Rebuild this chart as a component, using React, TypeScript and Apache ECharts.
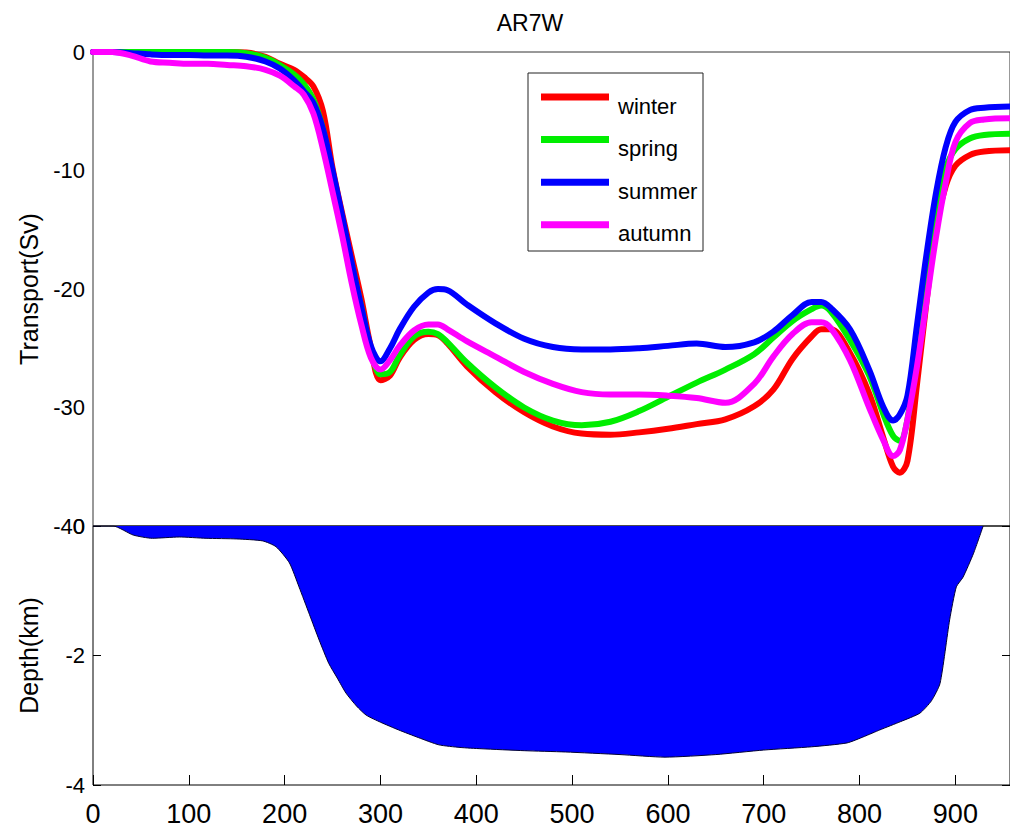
import React, { useEffect, useRef } from "react";
import * as echarts from "echarts";

const distance = [0, 20, 40, 60, 80, 100, 120, 140, 160, 180, 195, 210, 220, 230, 240, 250, 260, 270, 280, 290, 300, 310, 320, 335, 350, 360, 370, 390, 420, 450, 480, 510, 540, 570, 600, 630, 660, 690, 710, 730, 750, 760, 770, 790, 810, 825, 835, 842, 850, 860, 870, 880, 890, 900, 915, 930, 957];

const winter = [0, 0, 0, 0, 0, 0, 0, 0, -0.05, -0.4, -1.0, -1.5, -2.1, -2.9, -5.0, -9.8, -13.6, -17.2, -20.8, -24.9, -27.7, -27.3, -25.8, -24.3, -23.8, -23.9, -24.6, -26.5, -28.7, -30.4, -31.6, -32.2, -32.3, -32.1, -31.8, -31.4, -31.0, -29.9, -28.5, -25.9, -24.0, -23.4, -23.4, -25.4, -28.8, -32.6, -35.0, -35.5, -34.5, -28.0, -21.0, -14.7, -11.3, -9.6, -8.7, -8.4, -8.3];

const spring = [0, 0, 0, 0, 0, 0, 0, 0, -0.1, -0.5, -1.1, -1.9, -2.7, -4.0, -6.5, -10.3, -14.2, -17.9, -21.5, -25.1, -27.2, -27.0, -25.6, -24.0, -23.6, -23.8, -24.5, -26.2, -28.3, -30.0, -31.1, -31.5, -31.2, -30.3, -29.1, -27.9, -26.8, -25.5, -24.1, -22.7, -21.7, -21.4, -21.9, -24.3, -27.3, -30.6, -32.4, -32.8, -31.0, -25.0, -18.5, -13.0, -9.8, -8.2, -7.3, -7.0, -6.9];

const summer = [0, 0, -0.1, -0.2, -0.25, -0.25, -0.3, -0.3, -0.4, -0.8, -1.4, -2.4, -3.3, -4.3, -6.5, -10.0, -13.8, -17.8, -21.5, -24.8, -26.1, -25.0, -23.4, -21.5, -20.3, -20.0, -20.1, -21.3, -22.9, -24.2, -24.9, -25.1, -25.1, -25.0, -24.8, -24.6, -24.9, -24.5, -23.6, -22.2, -21.1, -21.1, -21.6, -23.4, -26.8, -30.0, -31.1, -30.6, -29.0, -23.0, -17.0, -11.8, -8.0, -5.9, -4.9, -4.7, -4.6];

const autumn = [0, 0, -0.3, -0.8, -0.9, -1.0, -1.0, -1.1, -1.2, -1.5, -2.0, -2.9, -3.6, -5.2, -8.2, -11.8, -15.5, -19.5, -23.0, -25.8, -26.8, -26.0, -24.8, -23.5, -23.0, -23.0, -23.4, -24.4, -25.7, -27.0, -28.0, -28.7, -28.9, -28.9, -29.0, -29.2, -29.6, -28.0, -25.7, -23.8, -22.8, -22.8, -23.3, -26.0, -30.0, -32.8, -34.1, -33.6, -31.0, -26.5, -21.0, -15.5, -11.0, -7.6, -6.0, -5.7, -5.6];

const depthDistance = [0, 21, 42, 62, 90, 118, 150, 177, 191, 205, 215, 226, 236, 246, 255, 264, 275, 285, 300, 319, 340, 361, 383, 405, 450, 493, 550, 597, 650, 700, 750, 787, 805, 821, 843, 863, 875, 884, 894, 901, 908, 919, 929];
const depth = [0, 0, -0.14, -0.19, -0.17, -0.19, -0.2, -0.23, -0.32, -0.57, -0.94, -1.37, -1.76, -2.12, -2.35, -2.58, -2.78, -2.92, -3.03, -3.15, -3.27, -3.38, -3.42, -3.44, -3.47, -3.49, -3.53, -3.57, -3.53, -3.46, -3.41, -3.35, -3.25, -3.15, -3.02, -2.89, -2.7, -2.43, -1.45, -0.94, -0.79, -0.42, 0];

const seasonNames = ["winter", "spring", "summer", "autumn"];
const seasonColors = ["#ff0000", "#00ee00", "#0000ff", "#ff00ff"];
const transportTicks = [0, -10, -20, -30, -40];
const depthTicks = [0, -2, -4];
const distanceTicks = [0, 100, 200, 300, 400, 500, 600, 700, 800, 900];

const FONT = "'Liberation Sans', Arial, Helvetica, sans-serif";

export default function App() {
  const ref = useRef<HTMLDivElement>(null);

  useEffect(() => {
    document.body.style.margin = "0";
    if (!ref.current) return;
    const chart = echarts.init(ref.current, undefined, { renderer: "svg" });
    const seasonData = [winter, spring, summer, autumn];
    const xMax = 957;

    const legendItems: any[] = [
      {
        type: "rect",
        shape: { x: 528, y: 73, width: 175, height: 178 },
        style: { fill: "#fff", stroke: "#222", lineWidth: 1 },
        z: 100,
      },
    ];
    seasonNames.forEach((name, i) => {
      const ly = 97 + i * 42.6;
      legendItems.push({
        type: "line",
        shape: { x1: 541, y1: ly, x2: 609, y2: ly },
        style: { stroke: seasonColors[i], lineWidth: 7 },
        z: 101,
      });
      legendItems.push({
        type: "text",
        x: 618,
        y: ly + 9,
        style: {
          text: name,
          fill: "#000",
          font: `22px ${FONT}`,
          verticalAlign: "middle",
          align: "left",
        },
        z: 101,
      });
    });

    const option: any = {
      animation: false,
      backgroundColor: "#fff",
      title: {
        text: "AR7W",
        left: 530,
        top: 11,
        textAlign: "center",
        padding: 0,
        textStyle: { fontFamily: FONT, fontSize: 23, fontWeight: "normal", color: "#000" },
      },
      grid: [
        { left: 93, top: 52, width: 919, height: 474, show: true, borderColor: "#333", borderWidth: 1, backgroundColor: "transparent" },
        { left: 93, top: 526, width: 919, height: 259, show: true, borderColor: "#000", borderWidth: 1, backgroundColor: "transparent" },
      ],
      xAxis: [
        {
          type: "value",
          gridIndex: 0,
          position: "bottom",
          min: 0,
          max: xMax,
          interval: 100,
          axisLabel: { show: false },
          axisTick: { show: false },
          axisLine: { show: false, onZero: false },
          splitLine: { show: false },
        },
        {
          type: "value",
          gridIndex: 1,
          position: "bottom",
          min: 0,
          max: xMax,
          interval: 100,
          axisLabel: {
            show: true,
            fontFamily: FONT,
            fontSize: 27,
            color: "#000",
            margin: 15,
            showMaxLabel: false,
            formatter: (v: number) => (distanceTicks.includes(v) ? String(v) : ""),
          },
          axisTick: { show: true, inside: true, length: 10, lineStyle: { color: "#000" } },
          axisLine: { show: false, onZero: false },
          splitLine: { show: false },
        },
      ],
      yAxis: [
        {
          type: "value",
          gridIndex: 0,
          min: -40,
          max: 0,
          interval: 10,
          name: "Transport(Sv)",
          nameLocation: "middle",
          nameGap: 52,
          nameTextStyle: { fontFamily: FONT, fontSize: 25, color: "#000" },
          axisLabel: {
            fontFamily: FONT,
            fontSize: 22,
            color: "#000",
            margin: 8,
            formatter: (v: number) => (transportTicks.includes(v) ? String(v) : ""),
          },
          axisTick: { show: false },
          axisLine: { show: false, onZero: false },
          splitLine: { show: false },
        },
        {
          type: "value",
          gridIndex: 1,
          min: -4,
          max: 0,
          interval: 2,
          name: "Depth(km)",
          nameLocation: "middle",
          nameGap: 52,
          nameTextStyle: { fontFamily: FONT, fontSize: 25, color: "#000" },
          axisLabel: {
            fontFamily: FONT,
            fontSize: 22,
            color: "#000",
            margin: 8,
            formatter: (v: number) => (depthTicks.includes(v) ? String(v) : ""),
          },
          axisTick: { show: true, inside: true, length: 8, lineStyle: { color: "#000" } },
          axisLine: { show: false, onZero: false },
          splitLine: { show: false },
        },
        {
          type: "value",
          gridIndex: 1,
          position: "right",
          min: -4,
          max: 0,
          interval: 2,
          axisLabel: { show: false },
          axisTick: { show: true, inside: true, length: 8, lineStyle: { color: "#000" } },
          axisLine: { show: false, onZero: false },
          splitLine: { show: false },
        },
      ],
      series: [
        ...seasonNames.map((name, i) => ({
          name,
          type: "line",
          xAxisIndex: 0,
          yAxisIndex: 0,
          data: distance.map((d, j) => [d, seasonData[i][j]]),
          showSymbol: false,
          smooth: 0.35,
          lineStyle: { color: seasonColors[i], width: 6, cap: "round", join: "round" },
          itemStyle: { color: seasonColors[i] },
          z: 2 + i,
        })),
        {
          name: "depth",
          type: "line",
          xAxisIndex: 1,
          yAxisIndex: 1,
          data: depthDistance.map((d, j) => [d, depth[j]]),
          showSymbol: false,
          smooth: 0.2,
          lineStyle: { color: "#000033", width: 1 },
          areaStyle: { color: "#0000ff", opacity: 1 },
          itemStyle: { color: "#0000ff" },
          z: 1,
        },
      ],
      graphic: legendItems,
    };

    chart.setOption(option);
    return () => chart.dispose();
  }, []);

  return (
    <div
      ref={ref}
      style={{ position: "absolute", left: 0, top: 0, width: 1010, height: 836, background: "#fff" }}
    />
  );
}
